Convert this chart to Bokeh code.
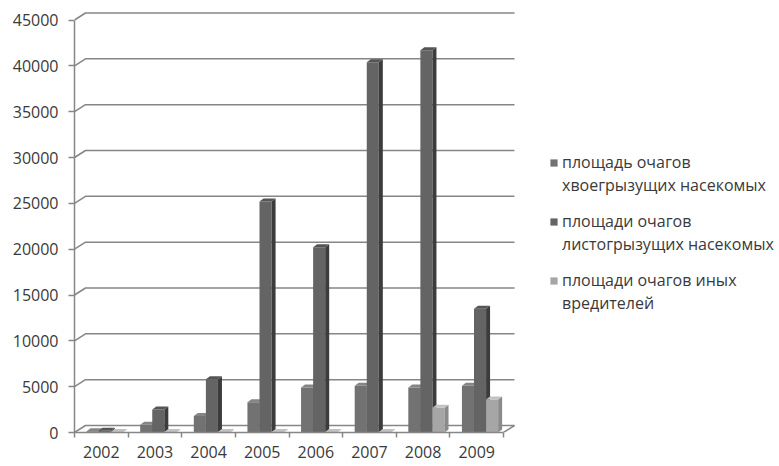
import numpy as np
from bokeh.plotting import figure
from bokeh.models import Range1d, FixedTicker, Legend, LegendItem
from bokeh.embed import file_html
from bokeh.resources import INLINE

# ---- data ----
years = ["2002", "2003", "2004", "2005", "2006", "2007", "2008", "2009"]
conifer = [150, 850, 1800, 3300, 4900, 5100, 4900, 5100]
leaf = [200, 2500, 5800, 25200, 20200, 40400, 41700, 13500]
other = [50, 50, 50, 50, 50, 50, 2700, 3600]
y_ticks = [0, 5000, 10000, 15000, 20000, 25000, 30000, 35000, 40000, 45000]
label_line1 = ["площадь очагов", "площади очагов", "площади очагов иных"]
label_line2 = ["хвоегрызущих насекомых", "листогрызущих насекомых", "вредителей"]

# ---- geometry / scales ----
FRAME_W, FRAME_H = 703, 424
PX_X = 53.625                 # pixels per category
Y_PER_PX = 45000 / 412.5      # data units per pixel
n = len(years)
X_END = FRAME_W / PX_X
Y_END = FRAME_H * Y_PER_PX

bw = 0.225
b_off = 0.225
bdx, bdy = 4 / PX_X, 3 * Y_PER_PX      # bar depth
fdx, fdy = 11 / PX_X, 7 * Y_PER_PX     # floor depth

GRID = "#868686"
TXT = "#3a3a3a"
FONT = "Open Sans"

p = figure(frame_width=FRAME_W, frame_height=FRAME_H,
           min_border_left=74, min_border_right=0, min_border_top=8, min_border_bottom=30,
           x_range=Range1d(0, X_END), y_range=Range1d(0, Y_END),
           output_backend="svg", toolbar_location=None)
p.outline_line_color = None
p.xgrid.visible = False
p.ygrid.visible = False
p.background_fill_color = "white"

# 3D gridlines (back wall) and floor
gxs, gys = [], []
for v in y_ticks:
    gxs.append([0, fdx, n + fdx])
    gys.append([v, v + fdy, v + fdy])
gxs.append([n, n + fdx])
gys.append([0, fdy])
p.multi_line(gxs, gys, line_color=GRID, line_width=1.5)

# axes
yax = p.yaxis[0]
yax.ticker = FixedTicker(ticks=y_ticks)
yax.bounds = (0, 45000)
yax.axis_line_color = GRID
yax.axis_line_width = 1.5
yax.major_tick_line_color = GRID
yax.major_tick_line_width = 1.5
yax.major_tick_out = 6
yax.major_tick_in = 0
yax.minor_tick_line_color = None
yax.major_label_standoff = 10
yax.major_label_text_font = FONT
yax.major_label_text_font_size = "16px"
yax.major_label_text_color = TXT

centers = [i + 0.5 for i in range(n)]
xax = p.xaxis[0]
xax.ticker = FixedTicker(ticks=centers, minor_ticks=list(range(n + 1)))
xax.major_label_overrides = {c: y for c, y in zip(centers, years)}
xax.bounds = (0, n)
xax.axis_line_color = GRID
xax.axis_line_width = 1.5
xax.major_tick_line_color = None
xax.major_tick_out = 0
xax.major_tick_in = 0
xax.minor_tick_line_color = GRID
xax.minor_tick_line_width = 1.5
xax.minor_tick_out = 5
xax.minor_tick_in = 0
xax.major_label_standoff = 8
xax.major_label_text_font = FONT
xax.major_label_text_font_size = "16px"
xax.major_label_text_color = TXT

# 3D bars
styles = [
    ("#727272", "#4a4a4a", "#858585"),
    ("#646464", "#3c3c3c", "#555555"),
    ("#a6a6a6", "#8a8a8a", "#c2c2c2"),
]
items1, items2 = [], []
blank = p.quad(left=[], right=[], bottom=[], top=[], fill_alpha=0, line_alpha=0)
for k, vals in enumerate([conifer, leaf, other]):
    vals = np.array(vals, dtype=float)
    left = np.arange(n) + b_off + k * bw
    right = left + bw
    front, side, top = styles[k]
    fr = p.quad(left=left, right=right, bottom=0, top=vals,
                fill_color=front, line_color=None)
    sxs = [[r, r + bdx, r + bdx, r] for r in right]
    sys_ = [[0, bdy, v + bdy, v] for v in vals]
    p.patches(sxs, sys_, fill_color=side, line_color=None)
    txs = [[l, l + bdx, r + bdx, r] for l, r in zip(left, right)]
    tys = [[v, v + bdy, v + bdy, v] for v in vals]
    p.patches(txs, tys, fill_color=top, line_color=None)
    items1.append(LegendItem(label=label_line1[k], renderers=[fr]))
    items2.append(LegendItem(label=label_line2[k], renderers=[blank]))


def make_legend(items, loc):
    lg = Legend(items=items, location=loc)
    lg.border_line_color = None
    lg.background_fill_alpha = 0
    lg.padding = 0
    lg.margin = 0
    lg.glyph_width = 9
    lg.glyph_height = 9
    lg.label_height = 20
    lg.label_standoff = 4
    lg.spacing = 37
    lg.label_text_font = FONT
    lg.label_text_font_size = "16px"
    lg.label_text_color = TXT
    return lg


p.add_layout(make_legend(items1, (475, 141)), "center")
p.add_layout(make_legend(items2, (475, 118)), "center")

open("out.html", "w").write(file_html(p, INLINE))
